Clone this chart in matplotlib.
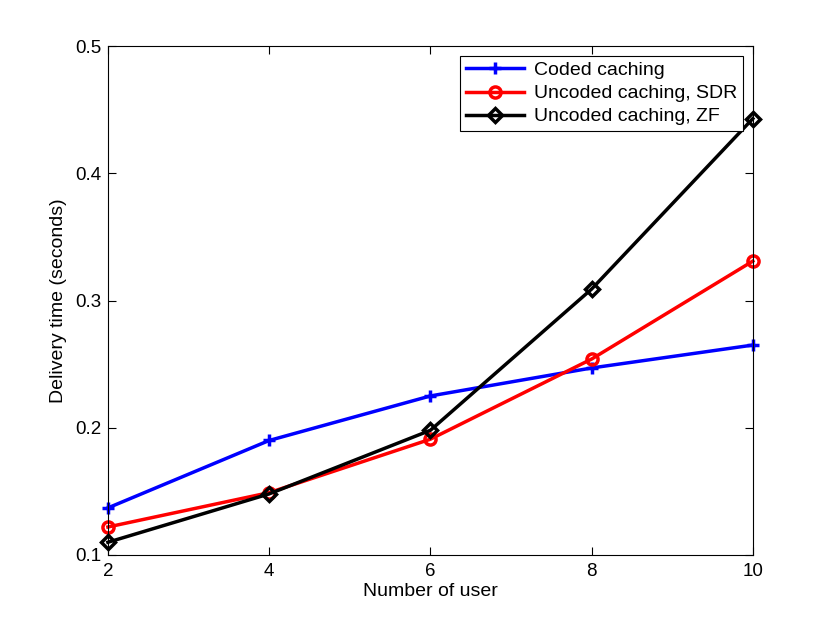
import matplotlib
matplotlib.use('Agg')
import matplotlib.pyplot as plt

plt.rcParams['font.family'] = ['Liberation Sans', 'DejaVu Sans']

users = [2, 4, 6, 8, 10]
coded = [0.137, 0.190, 0.225, 0.247, 0.265]
uncoded_sdr = [0.122, 0.149, 0.191, 0.254, 0.331]
uncoded_zf = [0.110, 0.148, 0.198, 0.309, 0.443]

fig = plt.figure(figsize=(8.3, 6.24), dpi=100)
ax = fig.add_axes([0.13, 0.1106, 0.777, 0.8155])

ax.plot(users, coded, color='#0000ff', lw=2.5, marker='+', ms=9, mew=2.5,
        label='Coded caching', clip_on=False)
ax.plot(users, uncoded_sdr, color='#ff0000', lw=2.5, marker='o', ms=8, mew=2.5,
        mfc='none', label='Uncoded caching, SDR', clip_on=False)
ax.plot(users, uncoded_zf, color='black', lw=2.5, marker='D', ms=7, mew=2.5,
        mfc='none', label='Uncoded caching, ZF', clip_on=False)

ax.set_xlim(2, 10)
ax.set_ylim(0.1, 0.5)
ax.set_xticks([2, 4, 6, 8, 10])
ax.set_yticks([0.1, 0.2, 0.3, 0.4, 0.5])
ax.set_yticklabels(['0.1', '0.2', '0.3', '0.4', '0.5'])
ax.tick_params(direction='in', top=True, right=True, labelsize=13.5, length=6, width=0.8)
ax.tick_params(axis='x', pad=6)
ax.tick_params(axis='y', pad=4.5)
for s in ax.spines.values():
    s.set_linewidth(0.8)

ax.set_xlabel('Number of user', fontsize=14, labelpad=2)
ax.set_ylabel('Delivery time (seconds)', fontsize=14, labelpad=6)

leg = ax.legend(loc='upper right', fontsize=14, fancybox=False, framealpha=1,
                edgecolor='black', borderaxespad=0.5, handlelength=3.0,
                labelspacing=0.28, borderpad=0.3, handletextpad=0.5)
leg.get_frame().set_linewidth(0.8)

fig.savefig('out.png', dpi=100, facecolor='white')
